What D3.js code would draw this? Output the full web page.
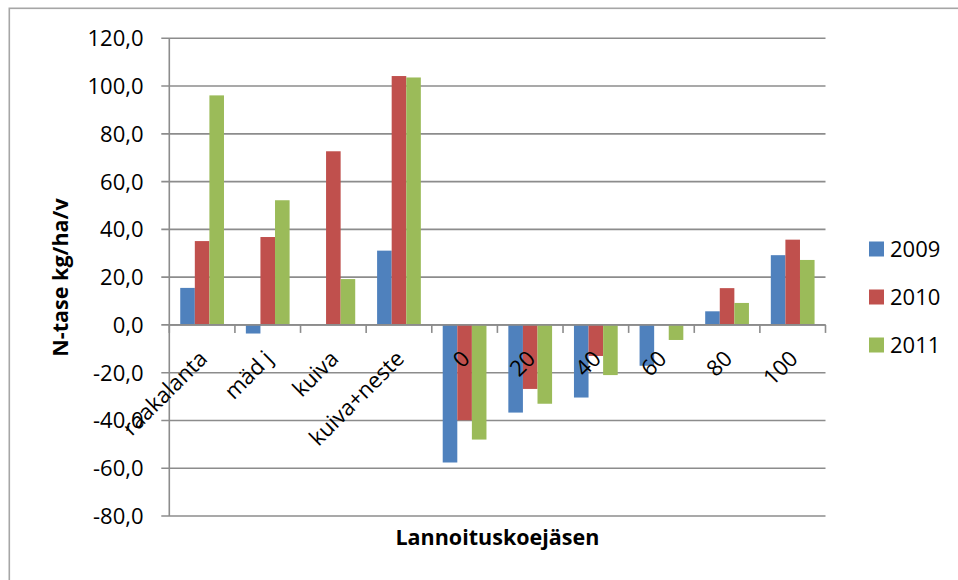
<!DOCTYPE html>
<html>
<head>
<meta charset="utf-8">
<script src="https://cdn.jsdelivr.net/npm/d3@7"></script>
<style>
  html, body { margin: 0; padding: 0; background: #fff; }
  svg { display: block; }
  text { font-family: "Open Sans", "Noto Sans", sans-serif; fill: #000; }
</style>
</head>
<body>
<svg id="chart" width="958" height="580"></svg>
<script>
// N balance per treatment and year
const categories = ["raakalanta", "mäd j", "kuiva", "kuiva+neste", "0", "20", "40", "60", "80", "100"];
const years = ["2009", "2010", "2011"];
const values2009 = [15.5, -3.6, 0, 31.1, -57.6, -36.7, -30.4, -17.1, 5.7, 29.2];
const values2010 = [35.1, 36.8, 72.7, 104.2, -39.9, -26.8, -13.0, 0, 15.4, 35.7];
const values2011 = [96.1, 52.2, 19.2, 103.6, -48.0, -33.0, -21.0, -6.3, 9.2, 27.2];
const yTickValues = [-80, -60, -40, -20, 0, 20, 40, 60, 80, 100, 120];
const colors = ["#4F81BD", "#C0504D", "#9BBB59"];

const seriesValues = [values2009, values2010, values2011];
const rows = categories.map((c, i) => ({
  cat: c,
  vals: years.map((yr, j) => ({ year: yr, value: seriesValues[j][i], color: colors[j] }))
}));

const svg = d3.select("#chart");
const plotLeft = 169.3, plotRight = 825.5, plotTop = 38.3, plotBottom = 516;
const gridColor = "#8c8c8c";

// outer chart frame (only its top and left edges fall inside the view)
svg.append("rect")
  .attr("x", 9.3).attr("y", 8.3)
  .attr("width", 1000).attr("height", 1000)
  .attr("fill", "none").attr("stroke", "#a6a6a6").attr("stroke-width", 1.6);

const y = d3.scaleLinear().domain([-80, 120]).range([plotBottom, plotTop]);
const x0 = d3.scaleBand().domain(categories).range([plotLeft, plotRight]).padding(0);
const x1 = d3.scaleBand().domain(years).range([0, x0.bandwidth()])
  .paddingInner(0).paddingOuter(0.75);

// one decimal, comma separator, plain hyphen for negatives
const fmt = v => d3.format(".1f")(v).replace(".", ",").replace("\u2212", "-");

// horizontal gridlines with outer tick marks
svg.append("g").selectAll("line").data(yTickValues).join("line")
  .attr("x1", plotLeft - 8).attr("x2", plotRight)
  .attr("y1", d => y(d)).attr("y2", d => y(d))
  .attr("stroke", gridColor).attr("stroke-width", 1.6);

// y axis labels
svg.append("g").selectAll("text").data(yTickValues).join("text")
  .attr("x", 143.5).attr("y", d => y(d))
  .attr("dy", "0.36em")
  .attr("text-anchor", "end")
  .style("font-size", "22px")
  .text(fmt);

// bars
const groups = svg.append("g").selectAll("g").data(rows).join("g")
  .attr("transform", d => `translate(${x0(d.cat)},0)`);
groups.selectAll("rect").data(d => d.vals).join("rect")
  .attr("x", d => x1(d.year))
  .attr("width", x1.bandwidth())
  .attr("y", d => y(Math.max(0, d.value)))
  .attr("height", d => Math.abs(y(d.value) - y(0)))
  .attr("fill", d => d.color);

// vertical axis line
svg.append("line")
  .attr("x1", plotLeft).attr("x2", plotLeft)
  .attr("y1", plotTop).attr("y2", plotBottom)
  .attr("stroke", gridColor).attr("stroke-width", 1.6);

// horizontal axis at zero with category boundary ticks
const xAxis = d3.axisBottom(x0).tickSize(0).tickFormat("");
const xAxisG = svg.append("g").attr("transform", `translate(0,${y(0)})`).call(xAxis);
xAxisG.select(".domain").attr("stroke", gridColor).attr("stroke-width", 1.6)
  .attr("d", `M${plotLeft},0H${plotRight}`);
const boundaries = categories.map(c => x0(c)).concat([plotRight]);
svg.append("g").selectAll("line").data(boundaries).join("line")
  .attr("x1", d => d).attr("x2", d => d)
  .attr("y1", y(0)).attr("y2", y(0) + 8)
  .attr("stroke", gridColor).attr("stroke-width", 1.6);

// rotated category labels
svg.append("g").selectAll("text").data(categories).join("text")
  .attr("transform", d => `translate(${x0(d) + x0.bandwidth() / 2 + 6.5},${360}) rotate(-45)`)
  .attr("text-anchor", "end")
  .style("font-size", "22px")
  .text(d => d);

// axis titles
svg.append("text")
  .attr("x", (plotLeft + plotRight) / 2).attr("y", 537)
  .attr("dy", "0.36em")
  .attr("text-anchor", "middle")
  .style("font-size", "21.5px").style("font-weight", "bold")
  .text("Lannoituskoejäsen");

svg.append("text")
  .attr("transform", "translate(60,277.5) rotate(-90)")
  .attr("dy", "0.36em")
  .attr("text-anchor", "middle")
  .style("font-size", "21.5px").style("font-weight", "bold")
  .text("N-tase kg/ha/v");

// legend
const legend = svg.append("g").selectAll("g").data(years).join("g")
  .attr("transform", (d, i) => `translate(869,${249 + i * 48})`);
legend.append("rect")
  .attr("x", 0).attr("y", -7.5).attr("width", 15).attr("height", 15)
  .attr("fill", (d, i) => colors[i]);
legend.append("text")
  .attr("x", 21).attr("y", 0).attr("dy", "0.36em")
  .style("font-size", "22px")
  .text(d => d);
</script>
</body>
</html>
